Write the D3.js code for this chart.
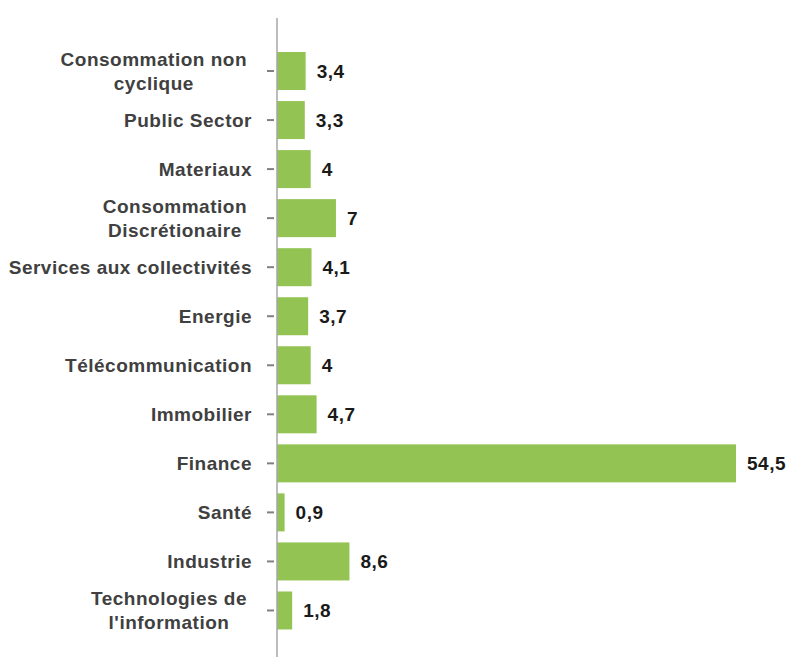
<!DOCTYPE html>
<html>
<head>
<meta charset="utf-8">
<script src="https://cdn.jsdelivr.net/npm/d3@7"></script>
<style>
  html, body { margin: 0; padding: 0; background: #ffffff; }
  svg { display: block; }
  text { font-family: "Liberation Sans", Arial, sans-serif; font-weight: bold; }
</style>
</head>
<body>
<svg id="chart" width="788" height="657"></svg>
<script>
// Data
const categories = [
  "Consommation non cyclique",
  "Public Sector",
  "Materiaux",
  "Consommation Discrétionaire",
  "Services aux collectivités",
  "Energie",
  "Télécommunication",
  "Immobilier",
  "Finance",
  "Santé",
  "Industrie",
  "Technologies de l'information"
];
const categoryLines = [
  ["Consommation non", "cyclique"],
  ["Public Sector"],
  ["Materiaux"],
  ["Consommation", "Discrétionaire"],
  ["Services aux collectivités"],
  ["Energie"],
  ["Télécommunication"],
  ["Immobilier"],
  ["Finance"],
  ["Santé"],
  ["Industrie"],
  ["Technologies de", "l'information"]
];
const values = [3.4, 3.3, 4, 7, 4.1, 3.7, 4, 4.7, 54.5, 0.9, 8.6, 1.8];
const valueLabels = ["3,4", "3,3", "4", "7", "4,1", "3,7", "4", "4,7", "54,5", "0,9", "8,6", "1,8"];

const svg = d3.select("#chart");

const x = d3.scaleLinear().domain([0, 54.5]).range([277, 736]);
const y = d3.scaleBand().domain(categories).range([46.5, 635]).paddingInner(0.225).paddingOuter(0.1125);

const data = categories.map((c, i) => ({ c, v: values[i], lab: valueLabels[i], lines: categoryLines[i] }));

// Bars
svg.append("g").selectAll("rect").data(data).join("rect")
  .attr("x", x(0))
  .attr("y", d => y(d.c))
  .attr("width", d => x(d.v) - x(0))
  .attr("height", y.bandwidth())
  .attr("fill", "#92c353");

// Axis line
svg.append("line")
  .attr("x1", 277).attr("x2", 277)
  .attr("y1", 18).attr("y2", 657)
  .attr("stroke", "#a6a6a6").attr("stroke-width", 1.5);

// Tick marks
svg.append("g").selectAll("line").data(data).join("line")
  .attr("x1", 267).attr("x2", 274)
  .attr("y1", d => y(d.c) + y.bandwidth() / 2)
  .attr("y2", d => y(d.c) + y.bandwidth() / 2)
  .attr("stroke", "#808080").attr("stroke-width", 2);

// Category labels
const labelG = svg.append("g");
data.forEach(d => {
  const cy = y(d.c) + y.bandwidth() / 2;
  if (d.lines.length === 1) {
    labelG.append("text")
      .attr("x", 252).attr("y", cy)
      .attr("dy", "0.35em")
      .attr("text-anchor", "end")
      .attr("font-size", 19)
      .attr("letter-spacing", "0.5px")
      .attr("fill", "#404040")
      .text(d.lines[0]);
  } else {
    const texts = d.lines.map((l, k) => labelG.append("text")
      .attr("y", cy + (k - (d.lines.length - 1) / 2) * 24)
      .attr("dy", "0.35em")
      .attr("text-anchor", "middle")
      .attr("font-size", 19)
      .attr("letter-spacing", "0.5px")
      .attr("fill", "#404040")
      .text(l));
    const maxW = d3.max(texts, t => t.node().getComputedTextLength());
    texts.forEach(t => t.attr("x", 247 - maxW / 2));
  }
});

// Value labels
svg.append("g").selectAll("text").data(data).join("text")
  .attr("x", d => x(d.v) + 11)
  .attr("y", d => y(d.c) + y.bandwidth() / 2)
  .attr("dy", "0.35em")
  .attr("font-size", 19)
  .attr("letter-spacing", "0.5px")
  .attr("fill", "#1a1a1a")
  .text(d => d.lab);
</script>
</body>
</html>
